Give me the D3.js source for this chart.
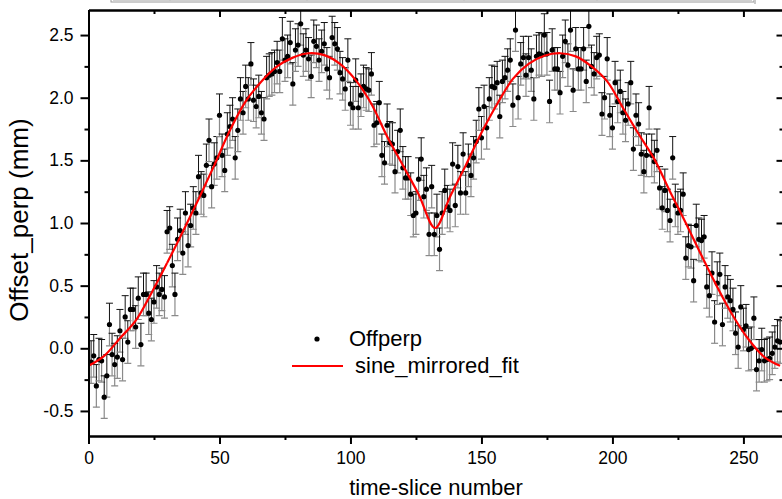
<!DOCTYPE html>
<html>
<head>
<meta charset="utf-8">
<script src="https://cdn.jsdelivr.net/npm/d3@7"></script>
<style>
  body { margin: 0; background: #fff; }
  text { font-family: "Liberation Sans", Arial, sans-serif; fill: #000; }
</style>
</head>
<body>
<div id="chart"></div>
<script>
// measured offsets, slice 1..264
const offperp = [
  -0.11, -0.06, -0.30, -0.09, -0.10, -0.39, -0.22, 0.19, -0.05, -0.13,
  -0.07, 0.14, -0.09, 0.25, 0.05, 0.31, 0.31, 0.17, 0.40, 0.03,
  0.43, 0.43, 0.28, 0.23, 0.37, 0.49, 0.43, 0.47, 0.41, 0.93,
  0.96, 0.66, 0.43, 0.87, 0.94, 0.76, 1.08, 0.82, 0.98, 1.12,
  1.08, 1.37, 1.24, 1.22, 1.46, 1.66, 1.29, 1.47, 1.52, 1.86,
  1.54, 1.42, 1.71, 1.77, 1.83, 1.52, 1.74, 1.99, 1.88, 2.09,
  1.99, 2.27, 1.98, 1.93, 2.01, 1.88, 1.83, 2.16, 2.18, 2.19,
  2.21, 2.28, 2.21, 2.47, 2.30, 2.33, 2.44, 2.11, 2.38, 2.42,
  2.59, 2.34, 2.38, 2.31, 2.17, 2.45, 2.41, 2.30, 2.37, 2.43,
  2.23, 2.16, 2.48, 2.43, 2.39, 2.20, 2.15, 2.07, 2.30, 1.95,
  1.92, 2.14, 1.92, 2.02, 2.09, 2.07, 2.06, 2.19, 1.78, 1.80,
  1.96, 1.54, 1.48, 1.78, 1.64, 1.63, 1.41, 1.57, 1.74, 1.44,
  1.36, 1.36, 1.23, 1.06, 1.08, 1.35, 1.51, 1.21, 1.27, 0.91,
  1.29, 0.91, 1.06, 0.79, 1.08, 1.26, 1.13, 1.10, 1.47, 1.14,
  1.45, 1.24, 1.55, 1.24, 1.46, 1.38, 1.52, 1.65, 1.91, 1.68,
  1.93, 1.76, 1.99, 2.09, 2.08, 2.12, 1.85, 2.13, 2.16, 2.22,
  2.30, 1.94, 2.54, 2.00, 2.27, 2.32, 2.18, 2.32, 2.22, 1.99,
  2.33, 2.35, 2.34, 2.50, 2.35, 1.97, 2.38, 2.23, 2.23, 2.04,
  2.33, 2.45, 2.26, 2.54, 2.06, 2.39, 2.23, 2.23, 2.39, 2.13,
  2.57, 2.25, 2.19, 2.32, 2.34, 1.87, 2.00, 2.31, 1.86, 1.76,
  2.12, 1.97, 2.05, 1.88, 1.82, 1.95, 2.12, 1.59, 1.86, 1.79,
  1.55, 1.41, 1.54, 1.92, 1.54, 1.49, 1.58, 1.28, 1.12, 1.26,
  1.10, 1.02, 1.52, 1.14, 1.08, 1.10, 1.23, 0.72, 0.82, 0.81,
  0.54, 0.98, 0.87, 0.86, 0.89, 0.49, 0.42, 0.60, 0.21, 0.52,
  0.59, 0.19, 0.49, 0.41, 0.38, 0.31, 0.12, 0.01, 0.33, 0.15,
  0.18, -0.01, 0.00, 0.24, -0.17, -0.10, -0.01, -0.10, -0.09, -0.08,
  -0.04, 0.01, 0.06, 0.05
];
const slices = offperp.map((d, i) => i + 1);
const errHalf = 0.17;

// fit curve
const fitX = [0, 6, 12, 18, 24, 30, 36, 42, 48, 54, 60, 66, 72, 78, 84, 90, 96, 102, 108, 114, 120, 126, 132.3,
  138, 144, 150, 156, 162, 168, 174, 180, 186, 192, 198, 204, 210, 216, 222, 228, 234, 240, 246, 252, 258, 264];
const fitY = [-0.14, -0.06, 0.08, 0.22, 0.44, 0.68, 0.93, 1.19, 1.46, 1.74, 1.97, 2.13, 2.25, 2.32, 2.355, 2.34, 2.27, 2.14, 1.95, 1.69, 1.46, 1.23, 0.96,
  1.21, 1.46, 1.72, 1.95, 2.15, 2.27, 2.335, 2.355, 2.33, 2.25, 2.13, 1.92, 1.71, 1.51, 1.25, 1.00, 0.74, 0.49, 0.26, 0.07, -0.07, -0.14];

const xMajor = [0, 50, 100, 150, 200, 250];
const xMinor = [25, 75, 125, 175, 225];
const yMajor = [-0.5, 0.0, 0.5, 1.0, 1.5, 2.0, 2.5];
const yMinor = [-0.25, 0.25, 0.75, 1.25, 1.75, 2.25];

const width = 782, height = 499;
const pLeft = 88.5, pRight = 783.5, pTop = 10, pBottom = 436;

const svg = d3.select("#chart").append("svg")
  .attr("width", width)
  .attr("height", height);

const x = d3.scaleLinear().domain([0, 265.3]).range([pLeft, pRight]);
const y = d3.scaleLinear().domain([-0.7, 2.7]).range([pBottom, pTop]);

// cut-off parameter table at top
const tbl = svg.append("g");
tbl.append("rect").attr("x", 111).attr("y", -20).attr("width", 643).attr("height", 22)
  .attr("fill", "#fff").attr("stroke", "#9a9a9a").attr("stroke-width", 1);
tbl.append("line").attr("x1", 113).attr("x2", 752).attr("y1", 0.5).attr("y2", 0.5)
  .attr("stroke", "#d0d0d0");
tbl.append("line").attr("x1", 755).attr("x2", 755).attr("y1", 0).attr("y2", 4)
  .attr("stroke", "#c8c8c8").attr("stroke-width", 2);
[170, 307, 464, 597].forEach(v => {
  tbl.append("line").attr("x1", v).attr("x2", v).attr("y1", -5).attr("y2", 1)
    .attr("stroke", "#c0c0c0");
});

const defs = svg.append("defs");
defs.append("clipPath").attr("id", "plotClip")
  .append("rect").attr("x", pLeft).attr("y", pTop)
  .attr("width", pRight - pLeft).attr("height", pBottom - pTop);

const data = slices.map((s, i) => ({ x: s, y: offperp[i] }));
const plot = svg.append("g").attr("clip-path", "url(#plotClip)");

// error bars: plus side black, minus side grey
const eb = plot.append("g");
data.forEach(d => {
  const cx = x(d.x), cy = y(d.y), yt = y(d.y + errHalf), yb = y(d.y - errHalf);
  eb.append("line").attr("x1", cx).attr("x2", cx).attr("y1", cy).attr("y2", yb)
    .attr("stroke", "#8a8a8a").attr("stroke-width", 1.2);
  eb.append("line").attr("x1", cx - 3.5).attr("x2", cx + 3.5).attr("y1", yb).attr("y2", yb)
    .attr("stroke", "#8a8a8a").attr("stroke-width", 1.2);
  eb.append("line").attr("x1", cx).attr("x2", cx).attr("y1", cy).attr("y2", yt)
    .attr("stroke", "#111").attr("stroke-width", 1);
  eb.append("line").attr("x1", cx - 3.5).attr("x2", cx + 3.5).attr("y1", yt).attr("y2", yt)
    .attr("stroke", "#111").attr("stroke-width", 1);
});

plot.append("g").selectAll("circle")
  .data(data)
  .enter()
  .append("circle")
  .attr("cx", d => x(d.x))
  .attr("cy", d => y(d.y))
  .attr("r", 2.6)
  .attr("fill", "#000");

// fit, two halves so the dip stays sharp
const fit = fitX.map((v, i) => ({ x: v, y: fitY[i] }));
const vi = d3.minIndex(fit.slice(5, fit.length - 5), d => d.y) + 5;
const fitLine = d3.line().x(d => x(d.x)).y(d => y(d.y)).curve(d3.curveCatmullRom);
[fit.slice(0, vi + 1), fit.slice(vi)].forEach(part => {
  plot.append("path").datum(part)
    .attr("d", fitLine)
    .attr("fill", "none")
    .attr("stroke", "#ff0000")
    .attr("stroke-width", 2.2);
});

// axes
function styleAxis(g) {
  g.select(".domain").attr("stroke", "#000").attr("stroke-width", 2);
  g.selectAll(".tick line").attr("stroke", "#000").attr("stroke-width", 2);
  g.selectAll("text").style("font-size", "17.5px").attr("fill", "#000")
    .style("font-family", '"Liberation Sans", Arial, sans-serif');
}

svg.append("g").attr("transform", `translate(0,${pBottom})`)
  .call(d3.axisBottom(x).tickValues(xMajor).tickSize(8).tickSizeOuter(0).tickPadding(8).tickFormat(d => String(d)))
  .call(styleAxis);
svg.append("g").attr("transform", `translate(0,${pBottom})`)
  .call(d3.axisBottom(x).tickValues(xMinor).tickSize(4).tickSizeOuter(0).tickFormat(""))
  .call(styleAxis);

svg.append("g").attr("transform", `translate(0,${pTop})`)
  .call(d3.axisTop(x).tickValues(xMajor).tickSize(-7).tickSizeOuter(0).tickFormat(""))
  .call(styleAxis);
svg.append("g").attr("transform", `translate(0,${pTop})`)
  .call(d3.axisTop(x).tickValues(xMinor).tickSize(-4).tickSizeOuter(0).tickFormat(""))
  .call(styleAxis);

svg.append("g").attr("transform", `translate(${pLeft},0)`)
  .call(d3.axisLeft(y).tickValues(yMajor).tickSize(8).tickSizeOuter(0).tickPadding(7).tickFormat(d => d.toFixed(1)))
  .call(styleAxis);
svg.append("g").attr("transform", `translate(${pLeft},0)`)
  .call(d3.axisLeft(y).tickValues(yMinor).tickSize(4).tickSizeOuter(0).tickFormat(""))
  .call(styleAxis);

svg.append("g").attr("transform", `translate(${pRight},0)`)
  .call(d3.axisRight(y).tickValues(yMajor).tickSize(-7).tickSizeOuter(0).tickFormat(""))
  .call(styleAxis);
svg.append("g").attr("transform", `translate(${pRight},0)`)
  .call(d3.axisRight(y).tickValues(yMinor).tickSize(-4).tickSizeOuter(0).tickFormat(""))
  .call(styleAxis);

// titles
svg.append("text")
  .attr("x", (pLeft + pRight) / 2)
  .attr("y", 495)
  .attr("text-anchor", "middle")
  .style("font-size", "22px")
  .text("time-slice number");

svg.append("text")
  .attr("transform", "translate(28,220) rotate(-90)")
  .attr("text-anchor", "middle")
  .style("font-size", "26px")
  .text("Offset_perp (mm)");

// legend
const legend = svg.append("g");
legend.append("circle").attr("cx", 317).attr("cy", 339).attr("r", 2.6).attr("fill", "#000");
legend.append("text").attr("x", 349).attr("y", 346).style("font-size", "22px").text("Offperp");
legend.append("line").attr("x1", 292).attr("x2", 343).attr("y1", 366).attr("y2", 366)
  .attr("stroke", "#ff0000").attr("stroke-width", 2.2);
legend.append("text").attr("x", 355).attr("y", 373).style("font-size", "22px").text("sine_mirrored_fit");
</script>
</body>
</html>
